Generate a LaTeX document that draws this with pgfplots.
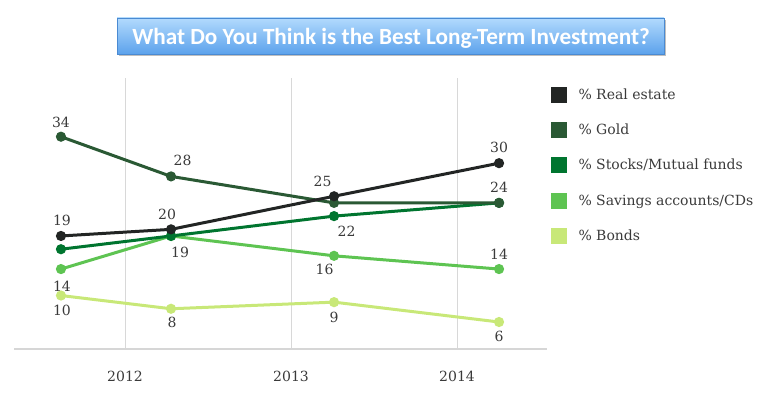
\documentclass[border=0pt]{standalone}
\usepackage{pgfplots}
\pgfplotsset{compat=1.18}
\usepackage{fontspec}
\setmainfont{DejaVu Serif}
\newfontfamily\titlefont{Carlito}
\definecolor{cReal}{HTML}{222524}
\definecolor{cGold}{HTML}{2A5934}
\definecolor{cStock}{HTML}{00752F}
\definecolor{cSave}{HTML}{5EC452}
\definecolor{cBond}{HTML}{C8E878}
\definecolor{axgray}{HTML}{D6D6D6}
\definecolor{grgray}{HTML}{D8D8D8}
\definecolor{lbl}{HTML}{3A3A3A}
\definecolor{ttop}{HTML}{B2DAFD}
\definecolor{tbot}{HTML}{5CA2EC}
\definecolor{tedge}{HTML}{4A8AD2}
\begin{document}
\begin{tikzpicture}[x=1pt,y=1pt]
\useasboundingbox (0,0) rectangle (773,394);
\fill[black!25] (119,338) rectangle (666,374);
\shade[top color=ttop, bottom color=tbot, draw=tedge, line width=0.8pt] (117,340) rectangle (664,376);
\node[text=white, font=\titlefont\bfseries\fontsize{23.2}{26}\selectfont] at (391,355.5) {What Do You Think is the Best Long-Term Investment?};
\begin{axis}[
  at={(14pt,45pt)}, anchor=south west, scale only axis, width=533pt, height=271pt,
  xmin=2011.331, xmax=2014.542, ymin=1.92, ymax=42.87,
  axis x line*=bottom, axis y line=none,
  x axis line style={draw=axgray, line width=2.5pt},
  xtick={2012,2013,2014}, xticklabels={2012,2013,2014},
  major tick length=0pt,
  xmajorgrids, grid style={draw=grgray, line width=1pt},
  ytick=\empty,
  xticklabel style={font=\fontsize{14}{16}\selectfont, text=lbl, yshift=-19pt},
  clip=false,
  reverse legend,
  legend style={at={(1.0075,0.968)}, anchor=north west, draw=none, fill=none,
    inner sep=0pt, outer sep=0pt, row sep=19.2pt,
    font=\fontsize{14}{16}\selectfont, text=lbl},
  legend cell align=left,
  legend image code/.code={\fill[#1,draw=none] (0pt,-8pt) rectangle (16pt,8pt); \path (24pt,0pt);},
  every axis plot/.append style={line width=3pt, mark=*, mark size=3.5pt, mark options={solid}},
]
\addplot[color=cBond] coordinates {(2011.614,10) (2012.277,8) (2013.259,9) (2014.253,6)};
\addlegendentry{\% Bonds}
\addplot[color=cSave] coordinates {(2011.614,14) (2012.277,19) (2013.259,16) (2014.253,14)};
\addlegendentry{\% Savings accounts/CDs}
\addplot[color=cStock] coordinates {(2011.614,17) (2012.277,19) (2013.259,22) (2014.253,24)};
\addlegendentry{\% Stocks/Mutual funds}
\addplot[color=cGold] coordinates {(2011.614,34) (2012.277,28) (2013.259,24) (2014.253,24)};
\addlegendentry{\% Gold}
\addplot[color=cReal] coordinates {(2011.614,19) (2012.277,20) (2013.259,25) (2014.253,30)};
\addlegendentry{\% Real estate}
\tikzset{lab/.style={text=lbl, font=\fontsize{14}{16}\selectfont, inner sep=0pt}}
% Real estate
\node[lab, xshift=1pt, yshift=16pt] at (axis cs:2011.614,19) {19};
\node[lab, xshift=-4pt, yshift=15pt] at (axis cs:2012.277,20) {20};
\node[lab, xshift=-11.5pt, yshift=15pt] at (axis cs:2013.259,25) {25};
\node[lab, yshift=16pt] at (axis cs:2014.253,30) {30};
% Gold
\node[lab, yshift=14pt] at (axis cs:2011.614,34) {34};
\node[lab, xshift=11.5pt, yshift=16.5pt] at (axis cs:2012.277,28) {28};
\node[lab, yshift=16pt] at (axis cs:2014.253,24) {24};
% Stocks
\node[lab, xshift=12.5pt, yshift=-15.5pt] at (axis cs:2013.259,22) {22};
% Savings
\node[lab, xshift=1pt, yshift=-17pt] at (axis cs:2011.614,14) {14};
\node[lab, xshift=9pt, yshift=-16pt] at (axis cs:2012.277,19) {19};
\node[lab, xshift=-9.5pt, yshift=-14pt] at (axis cs:2013.259,16) {16};
\node[lab, yshift=14.5pt] at (axis cs:2014.253,14) {14};
% Bonds
\node[lab, xshift=1pt, yshift=-14.5pt] at (axis cs:2011.614,10) {10};
\node[lab, xshift=1pt, yshift=-14pt] at (axis cs:2012.277,8) {8};
\node[lab, yshift=-15.5pt] at (axis cs:2013.259,9) {9};
\node[lab, yshift=-14pt] at (axis cs:2014.253,6) {6};
\end{axis}
\end{tikzpicture}
\end{document}
